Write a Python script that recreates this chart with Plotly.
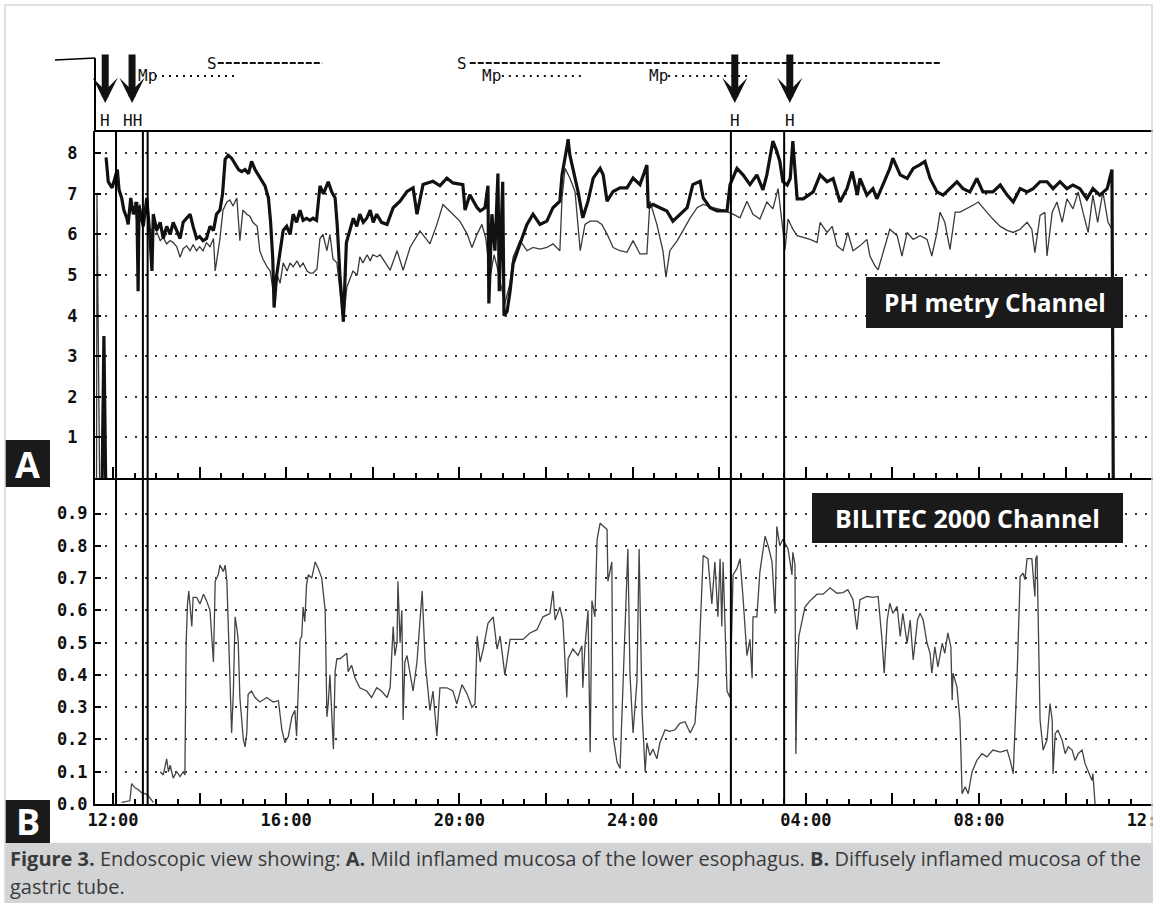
import plotly.graph_objects as go

# ---------------- DATA (time in hours after 12:00) ----------------
# pH channel, thick trace (sensor 1)
ph_thick = [
    (-0.25, 0.0), (-0.21, 3.5), (-0.17, 0.0), (None, None),
    (-0.16, 7.9), (-0.11, 7.3), (-0.02, 7.15), (0.05, 7.4), (0.1, 7.6), (0.14, 7.1), (0.2, 6.9),
    (0.25, 6.6), (0.32, 6.4), (0.35, 6.25), (0.41, 6.9), (0.47, 6.5), (0.55, 6.8), (0.58, 4.6),
    (0.6, 6.7), (0.62, 6.6), (0.7, 6.2), (0.78, 6.9), (0.85, 6.0), (0.9, 5.1), (0.93, 6.5),
    (1.01, 6.1), (1.09, 6.3), (1.16, 5.9), (1.24, 6.2), (1.32, 6.0), (1.39, 6.3), (1.47, 6.1),
    (1.55, 5.9), (1.62, 6.3), (1.7, 6.4), (1.78, 6.5), (1.85, 6.2), (1.93, 5.9), (2.0, 5.95),
    (2.08, 5.85), (2.16, 5.9), (2.24, 6.2), (2.32, 6.1), (2.39, 6.5), (2.47, 6.6), (2.53, 7.0),
    (2.59, 7.85), (2.66, 7.95), (2.74, 7.88), (2.82, 7.75), (2.9, 7.6), (2.97, 7.55), (3.05, 7.6),
    (3.13, 7.5), (3.2, 7.8), (3.28, 7.6), (3.36, 7.45), (3.43, 7.35), (3.51, 7.2), (3.59, 6.9),
    (3.64, 6.3), (3.69, 5.4), (3.72, 4.2), (3.78, 5.0), (3.86, 5.6), (3.93, 6.1), (4.01, 6.2),
    (4.09, 6.0), (4.16, 6.5), (4.24, 6.3), (4.32, 6.6), (4.39, 6.35), (4.47, 6.4), (4.55, 6.35),
    (4.62, 6.4), (4.7, 6.35), (4.78, 7.2), (4.86, 7.0), (4.97, 7.3), (5.05, 7.05), (5.13, 6.9),
    (5.18, 6.2), (5.24, 5.0), (5.32, 3.85), (5.39, 5.8), (5.47, 6.1), (5.55, 6.4), (5.63, 6.2),
    (5.7, 6.5), (5.78, 6.3), (5.86, 6.4), (5.94, 6.6), (6.01, 6.3), (6.09, 6.5), (6.2, 6.3),
    (6.33, 6.25), (6.47, 6.66), (6.63, 6.82), (6.79, 7.06), (6.93, 7.15), (7.02, 6.5), (7.16, 7.23),
    (7.39, 7.31), (7.55, 7.2), (7.71, 7.39), (7.85, 7.27), (8.08, 7.23), (8.13, 6.6), (8.24, 6.98),
    (8.41, 6.66), (8.48, 6.58), (8.59, 6.66), (8.66, 7.2), (8.68, 4.3), (8.75, 6.5), (8.82, 5.6),
    (8.89, 7.5), (8.92, 4.6), (9.0, 7.3), (9.03, 4.0), (9.1, 4.1), (9.17, 4.6), (9.24, 5.28),
    (9.4, 5.77), (9.56, 6.25), (9.7, 6.5), (9.86, 6.25), (10.02, 6.33), (10.16, 6.66), (10.32, 6.82),
    (10.37, 7.47), (10.49, 8.2), (10.51, 8.35), (10.55, 7.96), (10.62, 7.63), (10.74, 7.06),
    (10.85, 6.41), (10.97, 6.82), (11.09, 7.39), (11.25, 7.63), (11.32, 7.47), (11.41, 6.82),
    (11.55, 7.06), (11.71, 7.15), (11.87, 7.15), (12.01, 7.39), (12.17, 7.23), (12.33, 7.71),
    (12.36, 6.66), (12.47, 6.74), (12.63, 6.66), (12.79, 6.58), (12.93, 6.33), (13.09, 6.5),
    (13.26, 6.66), (13.39, 7.23), (13.56, 7.31), (13.63, 6.9), (13.79, 6.66), (13.95, 6.58),
    (14.18, 6.58), (14.25, 7.23), (14.41, 7.63), (14.55, 7.47), (14.71, 7.23), (14.87, 7.47),
    (15.01, 7.1), (15.1, 7.47), (15.24, 8.3), (15.33, 8.05), (15.4, 7.8), (15.47, 7.3),
    (15.57, 7.22), (15.64, 7.38), (15.7, 8.3), (15.8, 6.88), (15.94, 6.88), (16.17, 7.05),
    (16.33, 7.47), (16.49, 7.3), (16.63, 7.38), (16.79, 6.8), (16.95, 7.13), (17.07, 7.55),
    (17.19, 6.97), (17.25, 7.38), (17.41, 6.97), (17.55, 7.13), (17.64, 6.88), (17.78, 7.22),
    (17.94, 7.63), (18.01, 7.88), (18.18, 7.47), (18.34, 7.38), (18.48, 7.63), (18.64, 7.72),
    (18.75, 7.8), (18.87, 7.38), (19.03, 7.05), (19.17, 6.97), (19.33, 7.13), (19.49, 7.3),
    (19.63, 7.13), (19.79, 7.05), (19.95, 7.38), (20.09, 7.05), (20.32, 7.05), (20.49, 7.22),
    (20.65, 6.97), (20.79, 6.8), (20.95, 7.13), (21.11, 7.05), (21.25, 7.13), (21.41, 7.3),
    (21.57, 7.3), (21.71, 7.13), (21.87, 7.3), (22.03, 7.13), (22.17, 7.22), (22.33, 7.13),
    (22.49, 6.88), (22.63, 7.13), (22.79, 6.97), (22.96, 7.13), (23.07, 7.6), (23.1, 0.0),
]

# pH channel, thin trace (sensor 2)
ph_thin = [
    (-0.38, 0.0), (-0.37, 7.0), (-0.31, 0.0), (None, None),
    (0.5, 6.8), (0.55, 6.3), (0.62, 6.74), (0.7, 6.25), (0.78, 6.66), (0.85, 6.09), (0.97, 6.17),
    (1.09, 5.85), (1.16, 5.93), (1.24, 5.77), (1.32, 5.85), (1.39, 5.8), (1.47, 5.7), (1.55, 5.44),
    (1.62, 5.65), (1.7, 5.72), (1.78, 5.6), (1.85, 5.75), (1.93, 5.6), (2.0, 5.7), (2.08, 5.6),
    (2.16, 5.8), (2.24, 5.7), (2.32, 5.9), (2.36, 5.1), (2.43, 5.6), (2.47, 5.9), (2.54, 6.6),
    (2.63, 6.8), (2.7, 6.85), (2.77, 6.7), (2.86, 6.9), (2.93, 5.85), (3.0, 6.6), (3.09, 6.5),
    (3.16, 6.45), (3.23, 6.3), (3.33, 6.2), (3.39, 5.6), (3.46, 5.4), (3.56, 5.2), (3.63, 5.1),
    (3.7, 4.6), (3.79, 5.0), (3.86, 4.8), (3.93, 5.3), (4.02, 5.1), (4.09, 5.3), (4.16, 5.2),
    (4.25, 5.35), (4.32, 5.2), (4.39, 5.3), (4.48, 5.1), (4.55, 5.05), (4.62, 5.05), (4.71, 5.15),
    (4.78, 5.9), (4.85, 6.0), (4.94, 5.6), (5.01, 6.0), (5.08, 5.4), (5.17, 5.3), (5.24, 4.6),
    (5.32, 3.85), (5.4, 4.7), (5.47, 4.9), (5.54, 5.1), (5.64, 5.0), (5.7, 5.45), (5.77, 5.3),
    (5.87, 5.5), (5.94, 5.35), (6.0, 5.5), (6.1, 5.45), (6.17, 5.5), (6.4, 5.12), (6.56, 5.6),
    (6.7, 5.12), (6.86, 5.68), (7.09, 6.09), (7.32, 5.77), (7.48, 6.25), (7.62, 6.74), (7.85, 6.5),
    (8.01, 6.33), (8.18, 6.01), (8.29, 5.68), (8.41, 6.01), (8.52, 6.25), (8.61, 5.9), (8.71, 4.95),
    (8.8, 5.5), (8.87, 5.2), (9.05, 4.3), (9.17, 4.8), (9.24, 5.44), (9.4, 5.85), (9.56, 5.6),
    (9.7, 5.68), (9.86, 5.64), (10.02, 5.68), (10.16, 5.77), (10.32, 5.6), (10.37, 6.9),
    (10.44, 7.63), (10.55, 7.39), (10.67, 7.06), (10.79, 5.6), (10.9, 6.25), (11.02, 6.33),
    (11.18, 6.33), (11.29, 6.25), (11.41, 6.01), (11.55, 5.68), (11.71, 5.6), (11.87, 5.56),
    (12.01, 5.85), (12.17, 5.52), (12.33, 5.52), (12.4, 6.82), (12.56, 6.25), (12.7, 5.6),
    (12.77, 4.95), (12.86, 5.6), (13.03, 5.85), (13.16, 6.09), (13.33, 6.41), (13.49, 6.66),
    (13.63, 6.74), (13.86, 6.66), (14.09, 6.6), (14.32, 6.5), (14.48, 6.41), (14.64, 6.82),
    (14.78, 6.5), (14.94, 6.38), (15.1, 6.8), (15.24, 6.63), (15.36, 7.13), (15.45, 6.3),
    (15.52, 5.63), (15.59, 6.38), (15.7, 6.13), (15.8, 5.97), (15.94, 5.93), (16.1, 5.88),
    (16.26, 5.8), (16.33, 6.3), (16.49, 6.05), (16.61, 6.2), (16.72, 5.72), (16.86, 5.6),
    (16.97, 6.05), (17.09, 5.6), (17.25, 5.72), (17.41, 5.88), (17.48, 5.47), (17.6, 5.22),
    (17.67, 5.13), (17.78, 5.55), (17.94, 6.13), (18.11, 5.97), (18.22, 5.47), (18.34, 6.05),
    (18.48, 5.88), (18.64, 5.97), (18.8, 5.88), (18.91, 5.47), (19.03, 6.05), (19.1, 6.55),
    (19.21, 6.3), (19.33, 5.63), (19.45, 6.55), (19.56, 6.55), (19.72, 6.63), (19.86, 6.72),
    (19.98, 6.8), (20.18, 6.55), (20.32, 6.38), (20.49, 6.2), (20.65, 6.1), (20.79, 6.05),
    (20.95, 6.13), (21.11, 6.3), (21.22, 6.13), (21.29, 5.55), (21.41, 6.47), (21.52, 6.55),
    (21.57, 5.47), (21.69, 6.55), (21.8, 6.8), (21.92, 6.3), (22.03, 6.88), (22.17, 6.63),
    (22.29, 7.05), (22.4, 6.55), (22.52, 6.05), (22.63, 6.97), (22.74, 6.3), (22.86, 7.05),
    (22.98, 6.3), (23.07, 6.13),
]

# Bilirubin absorbance (BILITEC 2000 channel)
bilitec = [
    (0.2, 0.005), (0.39, 0.01), (0.43, 0.063), (0.51, 0.05), (0.58, 0.045), (0.66, 0.035),
    (0.78, 0.03), (0.85, 0.02), (0.93, 0.005), (None, None),
    (1.09, 0.1), (1.16, 0.09), (1.24, 0.14), (1.28, 0.1), (1.32, 0.12), (1.39, 0.08), (1.47, 0.1),
    (1.55, 0.085), (1.62, 0.1), (1.66, 0.09), (1.69, 0.5), (1.72, 0.62), (1.75, 0.66), (1.82, 0.55),
    (1.85, 0.64), (1.93, 0.64), (2.01, 0.62), (2.09, 0.65), (2.16, 0.63), (2.24, 0.6), (2.32, 0.44),
    (2.36, 0.69), (2.43, 0.71), (2.47, 0.74), (2.55, 0.72), (2.59, 0.74), (2.63, 0.69), (2.7, 0.39),
    (2.74, 0.22), (2.78, 0.35), (2.82, 0.58), (2.86, 0.545), (2.89, 0.51), (2.93, 0.33), (3.01, 0.2),
    (3.05, 0.177), (3.09, 0.22), (3.12, 0.34), (3.2, 0.35), (3.28, 0.33), (3.39, 0.316), (3.55, 0.33),
    (3.7, 0.316), (3.82, 0.32), (3.9, 0.23), (3.97, 0.19), (4.05, 0.21), (4.13, 0.27), (4.2, 0.29),
    (4.24, 0.21), (4.32, 0.51), (4.36, 0.52), (4.39, 0.61), (4.43, 0.565), (4.47, 0.68), (4.51, 0.71),
    (4.59, 0.7), (4.67, 0.75), (4.74, 0.73), (4.82, 0.7), (4.9, 0.6), (4.94, 0.27), (4.97, 0.31),
    (5.01, 0.4), (5.09, 0.17), (5.13, 0.41), (5.17, 0.45), (5.24, 0.45), (5.32, 0.46), (5.4, 0.467),
    (5.43, 0.41), (5.51, 0.43), (5.59, 0.39), (5.7, 0.36), (5.86, 0.35), (5.97, 0.33), (6.09, 0.36),
    (6.2, 0.35), (6.33, 0.33), (6.4, 0.36), (6.47, 0.55), (6.51, 0.46), (6.56, 0.5), (6.58, 0.69),
    (6.63, 0.5), (6.67, 0.6), (6.7, 0.26), (6.74, 0.44), (6.79, 0.46), (6.86, 0.4), (6.93, 0.35),
    (7.02, 0.44), (7.09, 0.57), (7.14, 0.66), (7.21, 0.44), (7.27, 0.36), (7.32, 0.29), (7.39, 0.35),
    (7.48, 0.21), (7.55, 0.36), (7.71, 0.36), (7.85, 0.35), (7.94, 0.31), (8.06, 0.37), (8.18, 0.34),
    (8.29, 0.3), (8.36, 0.31), (8.41, 0.52), (8.48, 0.44), (8.55, 0.48), (8.66, 0.56), (8.78, 0.58),
    (8.87, 0.48), (8.94, 0.52), (9.05, 0.4), (9.17, 0.51), (9.33, 0.51), (9.47, 0.51), (9.63, 0.53),
    (9.79, 0.54), (9.93, 0.58), (10.09, 0.59), (10.16, 0.66), (10.21, 0.57), (10.32, 0.61),
    (10.39, 0.57), (10.48, 0.33), (10.51, 0.45), (10.62, 0.48), (10.74, 0.46), (10.83, 0.49),
    (10.85, 0.36), (10.9, 0.49), (10.97, 0.6), (11.02, 0.16), (11.06, 0.63), (11.13, 0.58),
    (11.18, 0.82), (11.25, 0.87), (11.32, 0.86), (11.41, 0.85), (11.43, 0.69), (11.52, 0.75),
    (11.55, 0.21), (11.64, 0.13), (11.71, 0.11), (11.78, 0.38), (11.87, 0.72), (11.89, 0.79),
    (11.94, 0.4), (12.01, 0.22), (12.1, 0.38), (12.15, 0.79), (12.22, 0.28), (12.29, 0.1),
    (12.33, 0.19), (12.4, 0.15), (12.47, 0.17), (12.56, 0.14), (12.63, 0.19), (12.75, 0.23),
    (12.86, 0.225), (12.98, 0.23), (13.09, 0.25), (13.21, 0.255), (13.33, 0.22), (13.44, 0.25),
    (13.51, 0.38), (13.58, 0.58), (13.63, 0.77), (13.74, 0.76), (13.83, 0.62), (13.9, 0.75),
    (13.97, 0.58), (14.02, 0.76), (14.06, 0.55), (14.09, 0.75), (14.13, 0.6), (14.18, 0.35),
    (14.25, 0.33), (14.32, 0.71), (14.41, 0.73), (14.48, 0.76), (14.55, 0.64), (14.64, 0.46),
    (14.71, 0.51), (14.76, 0.39), (14.78, 0.58), (14.87, 0.58), (14.94, 0.72), (15.06, 0.83),
    (15.13, 0.8), (15.22, 0.75), (15.29, 0.59), (15.33, 0.86), (15.4, 0.8), (15.47, 0.82),
    (15.59, 0.79), (15.68, 0.71), (15.7, 0.78), (15.75, 0.74), (15.77, 0.155), (15.8, 0.4),
    (15.84, 0.52), (15.91, 0.57), (15.98, 0.61), (16.1, 0.63), (16.26, 0.65), (16.4, 0.65),
    (16.56, 0.67), (16.72, 0.653), (16.86, 0.655), (16.97, 0.664), (17.09, 0.633), (17.18, 0.54),
    (17.25, 0.633), (17.41, 0.643), (17.55, 0.64), (17.67, 0.643), (17.76, 0.508), (17.81, 0.405),
    (17.88, 0.57), (17.94, 0.622), (18.01, 0.591), (18.11, 0.612), (18.18, 0.519), (18.24, 0.591),
    (18.34, 0.498), (18.41, 0.57), (18.48, 0.446), (18.58, 0.57), (18.64, 0.591), (18.71, 0.57),
    (18.8, 0.498), (18.87, 0.467), (18.91, 0.405), (18.98, 0.487), (19.05, 0.425), (19.15, 0.498),
    (19.21, 0.467), (19.28, 0.53), (19.35, 0.487), (19.38, 0.322), (19.4, 0.405), (19.49, 0.363),
    (19.56, 0.26), (19.61, 0.032), (19.68, 0.053), (19.75, 0.032), (19.84, 0.1), (19.95, 0.135),
    (20.07, 0.156), (20.18, 0.146), (20.32, 0.167), (20.49, 0.161), (20.65, 0.167), (20.72, 0.135),
    (20.79, 0.094), (20.88, 0.4), (20.95, 0.705), (21.02, 0.715), (21.06, 0.695), (21.11, 0.76),
    (21.22, 0.76), (21.29, 0.643), (21.31, 0.76), (21.34, 0.77), (21.41, 0.26), (21.48, 0.167),
    (21.57, 0.198), (21.64, 0.311), (21.69, 0.26), (21.71, 0.094), (21.76, 0.218), (21.82, 0.229),
    (21.92, 0.198), (21.99, 0.156), (22.06, 0.177), (22.15, 0.167), (22.22, 0.135), (22.29, 0.156),
    (22.38, 0.167), (22.45, 0.125), (22.52, 0.104), (22.61, 0.073), (22.63, 0.094), (22.68, 0.0),
]

# x-axis time labels (hours after 12:00)
tick_hours = [0, 4, 8, 12, 16, 20, 24]
tick_labels = ["12:00", "16:00", "20:00", "24:00", "04:00", "08:00", "12:00"]
ph_ticks = [1, 2, 3, 4, 5, 6, 7, 8]
bili_ticks = [0.0, 0.1, 0.2, 0.3, 0.4, 0.5, 0.6, 0.7, 0.8, 0.9]

# event markers (H) drawn through both channels
h_event_times = [0.07, 0.69, 0.80, 14.27, 15.5]
# arrows with H labels
arrow_times = [-0.18, 0.44, 14.36, 15.63]
arrow_labels = ["H", "HH", "H", "H"]
# periods in the header: label, label time, start, end
period_labels = ["Mp", "S", "S", "Mp", "Mp"]
period_label_t = [0.79, 2.29, 8.06, 8.75, 12.59]
period_start = [0.97, 2.42, 8.24, 8.98, 12.82]
period_end = [2.89, 4.83, 19.1, 10.85, 14.67]

# ---------------- LAYOUT GEOMETRY ----------------
W, H = 1153, 903
ML, MR, MT, MB = 95, 0, 131, 99
PW, PHt = W - ML - MR, H - MT - MB
def px(p):
    return (p - ML) / PW
def py(p):
    return (H - MB - p) / PHt
SPLIT = py(478)
X_RANGE = [-0.4157, 24.018]

def unzip(pts):
    return [p[0] for p in pts], [p[1] for p in pts]

fig = go.Figure()
tt, tv = unzip(ph_thin)
fig.add_trace(go.Scatter(x=tt, y=tv, mode="lines", line=dict(color="#3a3a3a", width=1.3),
                         xaxis="x", yaxis="y", connectgaps=False, hoverinfo="skip", showlegend=False))
kt, kv = unzip(ph_thick)
fig.add_trace(go.Scatter(x=kt, y=kv, mode="lines", line=dict(color="#111111", width=3.2),
                         xaxis="x", yaxis="y", connectgaps=False, hoverinfo="skip", showlegend=False))
bt, bv = unzip(bilitec)
fig.add_trace(go.Scatter(x=bt, y=bv, mode="lines", line=dict(color="#444444", width=1.3),
                         xaxis="x2", yaxis="y2", connectgaps=False, hoverinfo="skip", showlegend=False))

mono = dict(family="DejaVu Sans Mono", size=17, color="#111111", weight="bold")
major_vals = list(range(0, 25, 2))
major_text = [tick_labels[tick_hours.index(v)] if v in tick_hours else "" for v in major_vals]

common_x = dict(range=X_RANGE, showgrid=False, zeroline=False, showline=True, linecolor="black",
                linewidth=2, ticks="inside", ticklen=11, tickwidth=1.5, tickcolor="black",
                tickmode="array", tickvals=major_vals, automargin=False,
                minor=dict(tick0=0, dtick=0.5, ticks="inside", ticklen=5, tickwidth=1.5, tickcolor="black"))
grid = dict(showgrid=True, gridcolor="#333333", gridwidth=2, griddash="2px,8px", zeroline=False,
            showline=True, linecolor="black", linewidth=2, ticks="inside", ticklen=6,
            tickcolor="black", tickwidth=1.5, tickfont=mono, tickmode="array", automargin=False)

fig.update_layout(
    width=W, height=H, autosize=False, margin=dict(l=ML, r=MR, t=MT, b=MB),
    paper_bgcolor="white", plot_bgcolor="white", showlegend=False,
    xaxis=dict(**common_x, anchor="y", domain=[0, 1], showticklabels=False, matches="x2"),
    xaxis2=dict(**common_x, anchor="y2", domain=[0, 1], ticktext=major_text, tickfont=mono,
                ticklabeloverflow="allow"),
    yaxis=dict(**grid, domain=[SPLIT, 1], range=[0, 8.55], tickvals=ph_ticks,
               ticktext=[str(v) for v in ph_ticks], ticklabelstandoff=12),
    yaxis2=dict(**grid, domain=[0, SPLIT], range=[0, 1.01], tickvals=bili_ticks,
                ticktext=[f"{v:.1f}" for v in bili_ticks], ticklabelstandoff=2),
)

shapes = []
shapes.append(dict(type="line", xref="paper", yref="paper", x0=0, x1=1, y0=1, y1=1,
                   line=dict(color="black", width=2)))
shapes.append(dict(type="line", xref="paper", yref="paper", x0=0, x1=0, y0=1, y1=py(58),
                   line=dict(color="black", width=2)))
shapes.append(dict(type="line", xref="paper", yref="paper", x0=px(55), x1=px(95), y0=py(60), y1=py(58),
                   line=dict(color="black", width=1.5)))
for t in h_event_times:
    shapes.append(dict(type="line", xref="x2", yref="paper", x0=t, x1=t, y0=0, y1=1,
                       line=dict(color="black", width=2)))
for lab, s, e in zip(period_labels, period_start, period_end):
    yy = py(63) if lab == "S" else py(76)
    dash = "6px,2px" if lab == "S" else "2px,5px"
    shapes.append(dict(type="line", xref="x2", yref="paper", x0=s, x1=e, y0=yy, y1=yy,
                       line=dict(color="#111", width=2, dash=dash)))
shapes.append(dict(type="rect", xref="paper", yref="paper", x0=px(866), x1=px(1123), y0=py(328), y1=py(277),
                   fillcolor="#1a1a1a", line=dict(width=0)))
shapes.append(dict(type="rect", xref="paper", yref="paper", x0=px(812), x1=px(1123), y0=py(543), y1=py(493),
                   fillcolor="#1a1a1a", line=dict(width=0)))
shapes.append(dict(type="rect", xref="paper", yref="paper", x0=px(5), x1=px(50), y0=py(487), y1=py(440),
                   fillcolor="#1a1a1a", line=dict(width=0)))
shapes.append(dict(type="rect", xref="paper", yref="paper", x0=px(5), x1=px(50), y0=py(843), y1=py(800),
                   fillcolor="#1a1a1a", line=dict(width=0)))
shapes.append(dict(type="rect", xref="paper", yref="paper", x0=px(5), x1=px(1153), y0=py(903), y1=py(843),
                   fillcolor="#d2d3d5", line=dict(width=0), layer="below"))
shapes.append(dict(type="rect", xref="paper", yref="paper", x0=px(5), x1=px(1152), y0=py(903), y1=py(5),
                   fillcolor="rgba(0,0,0,0)", line=dict(color="#d8d8d8", width=1.5)))

ann = []
hdr_font = dict(family="DejaVu Sans Mono", size=16, color="#111")
for t, lab in zip(arrow_times, arrow_labels):
    ann.append(dict(x=t, y=py(103), xref="x2", yref="paper", text="", showarrow=True,
                    ax=0, ay=-50, arrowhead=3, arrowsize=0.6, arrowwidth=7, arrowcolor="#111"))
    ann.append(dict(x=t, y=py(120), xref="x2", yref="paper", text=lab, showarrow=False,
                    xanchor="center", yanchor="middle", font=hdr_font))
for lab, t in zip(period_labels, period_label_t):
    yy = py(64) if lab == "S" else py(75)
    ann.append(dict(x=t, y=yy, xref="x2", yref="paper", text=lab, showarrow=False,
                    xanchor="center", yanchor="middle", font=hdr_font))
ann.append(dict(x=px(994.5), y=py(302.5), xref="paper", yref="paper", text="<b>PH metry Channel</b>",
                xanchor="center", yanchor="middle",
                showarrow=False, font=dict(family="Open Sans", size=24.5, color="white")))
ann.append(dict(x=px(967.5), y=py(518), xref="paper", yref="paper", text="<b>BILITEC 2000 Channel</b>",
                xanchor="center", yanchor="middle",
                showarrow=False, font=dict(family="Open Sans", size=25, color="white")))
ann.append(dict(x=px(27.5), y=py(464), xref="paper", yref="paper", text="<b>A</b>",
                xanchor="center", yanchor="middle",
                showarrow=False, font=dict(family="Open Sans", size=36, color="white")))
ann.append(dict(x=px(27.5), y=py(822), xref="paper", yref="paper", text="<b>B</b>",
                xanchor="center", yanchor="middle",
                showarrow=False, font=dict(family="Open Sans", size=36, color="white")))
cap1 = ("<b>Figure 3.</b> Endoscopic view showing: <b>A.</b> Mild inflamed mucosa of the lower esophagus. "
        "<b>B.</b> Diffusely inflamed mucosa of the")
cap_font = dict(family="Open Sans", size=20, color="#3a3a3a")
ann.append(dict(x=px(8), y=py(858), xref="paper", yref="paper", xanchor="left", yanchor="middle",
                text=cap1, showarrow=False, font=cap_font))
ann.append(dict(x=px(8), y=py(886), xref="paper", yref="paper", xanchor="left", yanchor="middle",
                text="gastric tube.", showarrow=False, font=cap_font))

fig.update_layout(shapes=shapes, annotations=ann)
fig.write_html("out.html", config={"responsive": False, "displayModeBar": False},
               post_script="document.body.style.margin='0';document.body.style.overflow='hidden';")
